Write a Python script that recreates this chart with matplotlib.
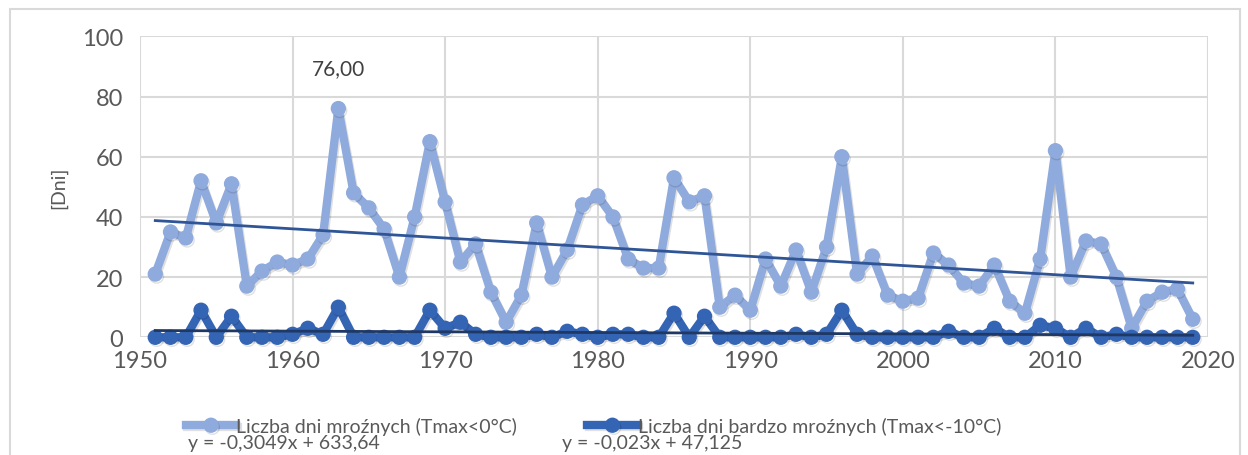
import numpy as np
import matplotlib.pyplot as plt
import matplotlib.patheffects as pe
from matplotlib.patches import Rectangle

plt.rcParams['font.family'] = ['Lato', 'DejaVu Sans']

# --- data ---
years = np.arange(1951, 2020)
mrozne = [21, 35, 33, 52, 38, 51, 17, 22, 25, 24, 26, 34, 76, 48, 43, 36, 20, 40, 65, 45,
          25, 31, 15, 5, 14, 38, 20, 29, 44, 47, 40, 26, 23, 23, 53, 45, 47, 10, 14, 9,
          26, 17, 29, 15, 30, 60, 21, 27, 14, 12, 13, 28, 24, 18, 17, 24, 12, 8, 26, 62,
          20, 32, 31, 20, 3, 12, 15, 16, 6]
bardzo = [0, 0, 0, 9, 0, 7, 0, 0, 0, 1, 3, 1, 10, 0, 0, 0, 0, 0, 9, 3,
          5, 1, 0, 0, 0, 1, 0, 2, 1, 0, 1, 1, 0, 0, 8, 0, 7, 0, 0, 0,
          0, 0, 1, 0, 1, 9, 1, 0, 0, 0, 0, 0, 2, 0, 0, 3, 0, 0, 4, 3,
          0, 3, 0, 1, 0, 0, 0, 0, 0]
trend1 = (-0.3049, 633.64)
trend2 = (-0.023, 47.125)
label1 = "Liczba dni mroźnych (Tmax<0°C)"
label2 = "Liczba dni bardzo mroźnych (Tmax<-10°C)"
eq1 = "y = -0,3049x + 633,64"
eq2 = "y = -0,023x + 47,125"

c_light = '#8FAADC'
c_dark = '#3464B4'
c_trend1 = '#2F5597'
c_trend2 = '#1F3864'
grid_c = '#D9D9D9'
txt_c = '#595959'

fig = plt.figure(figsize=(12.48, 4.56), dpi=100)
fig.patches.append(Rectangle((10 / 1248, -0.02), 1230 / 1248, 1 - 10 / 456 + 0.02,
                             transform=fig.transFigure, fill=False,
                             edgecolor=grid_c, linewidth=1.5))
ax = fig.add_axes([140 / 1248, 1 - 338.3 / 456, 1068 / 1248, 301 / 456])

shadow = [pe.SimpleLineShadow(offset=(1, -1.5), shadow_color='#000000', alpha=0.12),
          pe.Normal()]

ax.plot(years, mrozne, color=c_light, lw=6, marker='o', ms=10,
        label=label1, path_effects=shadow, zorder=3, clip_on=False)
ax.plot(years, bardzo, color=c_dark, lw=6, marker='o', ms=10,
        label=label2, path_effects=shadow, zorder=4, clip_on=False)

ax.plot(years, trend1[0] * years + trend1[1], color=c_trend1, lw=2, zorder=5)
ax.plot(years, trend2[0] * years + trend2[1], color=c_trend2, lw=2, zorder=5,
        clip_on=False)

imax = int(np.argmax(mrozne))
ax.annotate(f"{mrozne[imax]:.2f}".replace('.', ','), (years[imax], mrozne[imax]),
            xytext=(0, 22), textcoords='offset points', ha='center', va='bottom',
            fontsize=15, color='#404040')

ax.set_xlim(1950, 2020)
ax.set_ylim(0, 100)
ax.set_xticks(np.arange(1950, 2021, 10))
ax.set_yticks(np.arange(0, 101, 20))
ax.grid(True, color=grid_c, lw=1.5)
ax.set_axisbelow(True)
for s in ax.spines.values():
    s.set_visible(False)
ax.tick_params(length=0, labelsize=17, colors=txt_c, pad=12)
ax.tick_params(axis='x', pad=9)
ax.set_ylabel("[Dni]", fontsize=14, color=txt_c, labelpad=11)

fig.legend(loc='center left', bbox_to_anchor=(176 / 1248, 1 - 427 / 456), ncol=2,
           frameon=False, fontsize=14, handlelength=2.6, handletextpad=0.0,
           columnspacing=3.6, labelcolor=txt_c, borderpad=0)
fig.text(188 / 1248, 1 - 444 / 456, eq1, fontsize=14, color=txt_c, va='center')
fig.text(562 / 1248, 1 - 444 / 456, eq2, fontsize=14, color=txt_c, va='center')

fig.savefig('out.png', dpi=100)
